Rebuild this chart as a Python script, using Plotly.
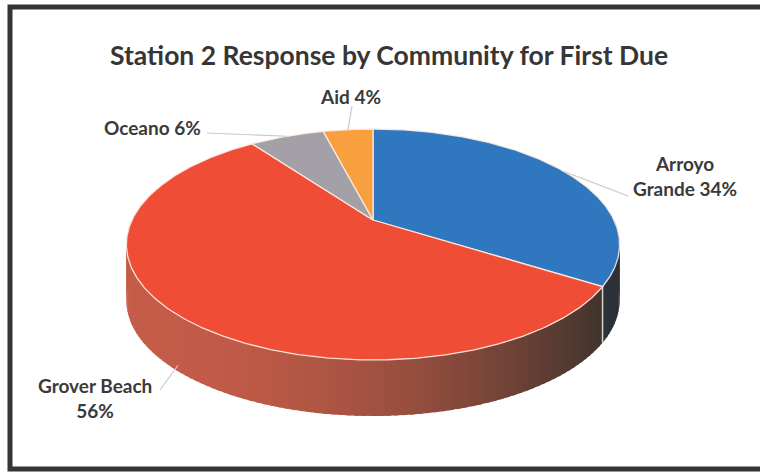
import numpy as np
import plotly.graph_objects as go

# Station 2 first-due responses by community (percent of calls)
categories = ["Arroyo Grande", "Grover Beach", "Oceano", "Aid"]
percents = [34, 56, 6, 4]
label_templates = ["Arroyo<br>Grande {v}%", "Grover Beach<br>{v}%", "Oceano {v}%", "Aid {v}%"]
top_colors = ["#2f78c0", "#f04d37", "#a3a1a7", "#f8a03f"]

# Drawing setup: a tilted disc seen in perspective
W, H = 760, 475
CX, CY = 373.0, 220.0      # disc centre on screen
RA, RB = 241.0, 110.3      # horizontal / vertical radii
K = 0.212                  # perspective strength
DEPTH = 56.0               # thickness of the disc wall


def proj(theta_deg, drop=0.0):
    t = np.radians(theta_deg)
    X, Z = np.sin(t), np.cos(t)
    w = 1.0 + K * Z
    return CX + RA * X / w, CY - RB * Z / w + drop


def lerp(c1, c2, s):
    return "rgb(%d,%d,%d)" % tuple(int(round(a + (b - a) * s)) for a, b in zip(c1, c2))


fracs = np.array(percents, dtype=float) / sum(percents)
starts = np.concatenate([[0.0], np.cumsum(fracs)[:-1]]) * 360.0
ends = np.cumsum(fracs) * 360.0

fig = go.Figure()

# Front wall of the disc, shaded in narrow overlapping strips
wall_light = {0: (62, 70, 80), 1: (196, 92, 72), 2: (120, 118, 124), 3: (170, 110, 50)}
wall_dark = {0: (44, 48, 56), 1: (58, 50, 44), 2: (70, 68, 72), 3: (90, 60, 30)}
for i in range(len(categories)):
    a0, a1 = max(starts[i], 90.0), min(ends[i], 270.0)
    if a1 <= a0:
        continue
    edges = np.linspace(a0, a1, max(2, int((a1 - a0) / 1.5) + 1))
    # paint from the far right towards the left so overlaps hide the seams
    for e0, e1 in zip(edges[:-1], edges[1:]):
        e1x = min(e1 + 0.9, a1)
        arc = np.linspace(e0, e1x, 5)
        xt, yt = proj(arc)
        xb, yb = proj(arc[::-1], DEPTH)
        xs = np.concatenate([xt, xb, xt[:1]])
        ys = np.concatenate([yt, yb, yt[:1]])
        xm, _ = proj((e0 + e1) / 2)
        t = np.clip((xm - (CX - RA)) / (2 * RA), 0, 1)
        col = lerp(wall_light[i], wall_dark[i], t ** 2)
        fig.add_trace(go.Scatter(x=xs, y=ys, mode="lines", fill="toself",
                                 fillcolor=col, line=dict(width=0),
                                 hoverinfo="skip", showlegend=False))
    # light seam where a slice wall starts
    if 90.0 <= starts[i] <= 270.0 and i > 0:
        sx, sy = proj(np.array([starts[i], starts[i]]), np.array([0.0, DEPTH]))
        fig.add_trace(go.Scatter(x=sx, y=sy, mode="lines",
                                 line=dict(color="rgba(230,225,215,0.9)", width=1.5),
                                 hoverinfo="skip", showlegend=False))

# Top faces of the slices
for i, name in enumerate(categories):
    arc = np.linspace(starts[i], ends[i], max(8, int(ends[i] - starts[i]) * 2))
    ax_, ay_ = proj(arc)
    xs = np.concatenate([[CX], ax_, [CX]])
    ys = np.concatenate([[CY], ay_, [CY]])
    fig.add_trace(go.Scatter(x=xs, y=ys, mode="lines", fill="toself",
                             fillcolor=top_colors[i],
                             line=dict(color="rgba(255,236,225,0.9)", width=1.3),
                             name=name, hoverinfo="skip", showlegend=False))

# Data labels with leader lines to the middle of each slice
label_pos = [(685, 176), (95, 398), (152, 127), (350, 96)]
leader_start = [(628, 196), (160, 390), (207, 133), (352, 106)]
leader_drop = [0.0, DEPTH * 0.9, 0.0, 0.0]
for i, name in enumerate(categories):
    mid = (starts[i] + ends[i]) / 2
    ex, ey = proj(mid, leader_drop[i])
    sx, sy = leader_start[i]
    fig.add_shape(type="line", x0=sx, y0=sy, x1=float(ex), y1=float(ey),
                  line=dict(color="#c9c9cc", width=1.2), layer="above")
    fig.add_annotation(x=label_pos[i][0], y=label_pos[i][1],
                       text="<b>" + label_templates[i].format(v=percents[i]) + "</b>",
                       showarrow=False, align="center",
                       font=dict(family="Lato", size=19, color="#3a3a3a"))

fig.add_annotation(x=389, y=55, text="<b>Station 2 Response by Community for First Due</b>",
                   showarrow=False, font=dict(family="Lato", size=26.5, color="#363636"))

# Chart frame
fig.add_shape(type="rect", x0=10, y0=7, x1=763, y1=469,
              line=dict(color="#353535", width=5), layer="above")

fig.update_layout(
    width=W, height=H, margin=dict(l=0, r=0, t=0, b=0),
    paper_bgcolor="white", plot_bgcolor="white",
    xaxis=dict(range=[0, W], visible=False, fixedrange=True),
    yaxis=dict(range=[H, 0], visible=False, fixedrange=True),
)

fig.write_html("out.html")
